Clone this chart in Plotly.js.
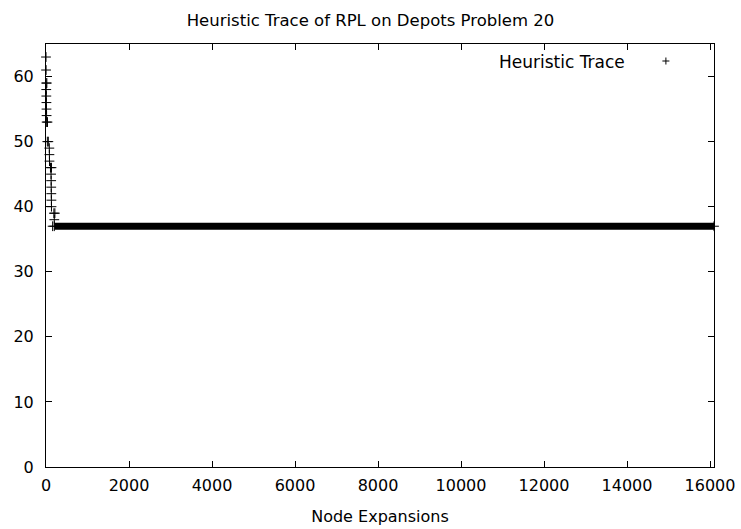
<!DOCTYPE html>
<html>
<head>
<meta charset="utf-8">
<script src="https://cdn.plot.ly/plotly-3.0.1.min.js"></script>
<style>html,body{margin:0;padding:0;background:#fff;}#chart{width:741px;height:529px;}</style>
</head>
<body>
<div id="chart"></div>
<script>
// Early part of the heuristic trace (node expansion index, heuristic value)
const earlyX = [0, 2, 4, 20, 6, 8, 10, 12, 14, 16, 36, 32, 56, 80, 82, 84, 108, 132, 122, 124, 126, 128, 130, 132, 160, 190, 214, 200];
const earlyH = [63, 61, 59, 59, 58, 57, 56, 55, 54, 53, 53, 50, 50, 49, 48, 47, 46, 46, 45, 44, 43, 42, 41, 40, 37, 39, 39, 38];
// Long plateau at h = 37 (densely packed points, start/end)
const plateauX = [200, 16096];
const plateauH = [37, 37];
// Axis ticks
const xTicks = [0, 2000, 4000, 6000, 8000, 10000, 12000, 14000, 16000];
const yTicks = [0, 10, 20, 30, 40, 50, 60];
const seriesName = "Heuristic Trace";

const FONT = "DejaVu Sans";
const markerStyle = {symbol: "cross-thin", size: 7, color: "#000", line: {width: 1, color: "#000"}};

const traces = [
  {x: plateauX, y: plateauH, mode: "lines+markers", line: {color: "#000", width: 7},
   marker: markerStyle, cliponaxis: false, showlegend: false, hoverinfo: "skip"},
  {x: earlyX, y: earlyH, mode: "markers", name: seriesName, marker: markerStyle,
   cliponaxis: false, showlegend: false}
];

const axisCommon = {
  ticks: "inside", ticklen: 6, tickwidth: 1, tickcolor: "#000",
  showline: true, linecolor: "#000", linewidth: 1, mirror: "ticks",
  showgrid: false, zeroline: false,
  tickfont: {family: FONT, size: 16, color: "#000"}
};

const layout = {
  width: 741, height: 529,
  margin: {l: 46, r: 27, t: 44, b: 62, pad: 0},
  paper_bgcolor: "#fff", plot_bgcolor: "#fff",
  title: {text: "Heuristic Trace of RPL on Depots Problem 20",
          font: {family: FONT, size: 16.5, color: "#000"},
          x: 0.5, xref: "container", xanchor: "center",
          y: 0.962, yref: "container", yanchor: "middle"},
  xaxis: Object.assign({}, axisCommon, {
    range: [0, 16096], tickmode: "array", tickvals: xTicks,
    ticktext: xTicks.map(String), ticklabelstandoff: 4,
    title: {text: "Node Expansions", font: {family: FONT, size: 16, color: "#000"}, standoff: 16}
  }),
  yaxis: Object.assign({}, axisCommon, {
    range: [0, 65], tickmode: "array", tickvals: yTicks,
    ticktext: yTicks.map(String), ticklabelstandoff: 8
  }),
  annotations: [{
    text: seriesName, xref: "paper", yref: "paper",
    x: 0.8698, y: 0.9574, xanchor: "right", yanchor: "middle", showarrow: false,
    font: {family: FONT, size: 17, color: "#000"}
  }],
  shapes: [
    {type: "line", xref: "paper", yref: "paper", xsizemode: "pixel", ysizemode: "pixel",
     xanchor: 0.928, yanchor: 0.9598, x0: -3.5, x1: 3.5, y0: 0, y1: 0,
     line: {color: "#000", width: 1}},
    {type: "line", xref: "paper", yref: "paper", xsizemode: "pixel", ysizemode: "pixel",
     xanchor: 0.928, yanchor: 0.9598, x0: 0, x1: 0, y0: -3.5, y1: 3.5,
     line: {color: "#000", width: 1}}
  ],
  showlegend: false
};

Plotly.newPlot("chart", traces, layout, {staticPlot: true, displayModeBar: false});
</script>
</body>
</html>
